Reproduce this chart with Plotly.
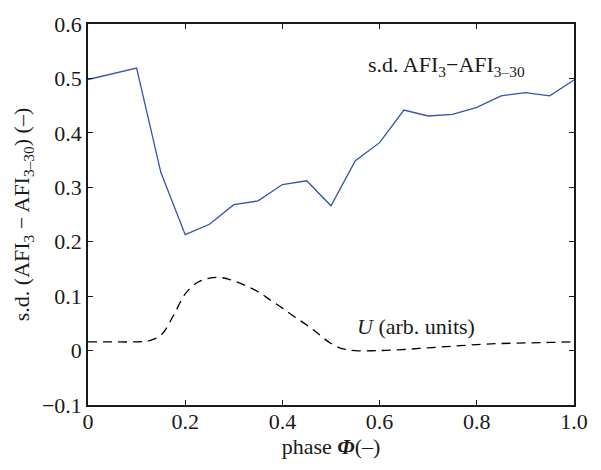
import plotly.graph_objects as go

# Phase grid and the standard deviation of AFI3 - AFI3-30
phase = [0.00, 0.05, 0.10, 0.15, 0.20, 0.25, 0.30, 0.35, 0.40, 0.45, 0.50,
         0.55, 0.60, 0.65, 0.70, 0.75, 0.80, 0.85, 0.90, 0.95, 1.00]
sd_afi = [0.498, 0.508, 0.519, 0.327, 0.213, 0.232, 0.268, 0.275, 0.305, 0.312, 0.266,
          0.349, 0.382, 0.442, 0.431, 0.434, 0.447, 0.468, 0.474, 0.468, 0.497]

# Forcing U (arbitrary units) over the phase
u_phase = [0.00, 0.05, 0.10, 0.125, 0.15, 0.175, 0.20, 0.225, 0.25, 0.275, 0.30,
           0.325, 0.35, 0.375, 0.40, 0.425, 0.45, 0.475, 0.50, 0.525, 0.55, 0.60,
           0.65, 0.70, 0.75, 0.80, 0.85, 0.90, 0.95, 1.00]
u_vals = [0.016, 0.016, 0.016, 0.018, 0.028, 0.063, 0.104, 0.125, 0.133, 0.134, 0.128,
          0.119, 0.108, 0.093, 0.078, 0.062, 0.047, 0.030, 0.013, 0.003, 0.000, 0.000,
          0.002, 0.005, 0.008, 0.011, 0.013, 0.014, 0.015, 0.016]

x_ticks = [0, 0.2, 0.4, 0.6, 0.8, 1.0]
x_labels = ["0", "0.2", "0.4", "0.6", "0.8", "1.0"]
y_ticks = [-0.1, 0, 0.1, 0.2, 0.3, 0.4, 0.5, 0.6]
y_labels = ["\u22120.1", "0", "0.1", "0.2", "0.3", "0.4", "0.5", "0.6"]

FONT = "'Liberation Serif', 'Times New Roman', serif"
INK = "#1a1a1a"

fig = go.Figure()
fig.add_trace(go.Scatter(x=phase, y=sd_afi, mode="lines",
                         line=dict(color="#3553b0", width=1.3), showlegend=False))
fig.add_trace(go.Scatter(x=u_phase, y=u_vals, mode="lines", line_shape="spline",
                         line=dict(color="black", width=1.3, dash="9px,6px"),
                         showlegend=False))

fig.add_annotation(x=0.571, y=0.522, xref="x", yref="y", xanchor="left", yanchor="middle",
                   text="s.d. AFI<sub>3</sub>\u2212AFI<sub>3\u201330</sub>",
                   showarrow=False, font=dict(family=FONT, size=22, color=INK))
fig.add_annotation(x=0.55, y=0.045, xref="x", yref="y", xanchor="left", yanchor="middle",
                   text="<i>U</i> (arb. units)",
                   showarrow=False, font=dict(family=FONT, size=22, color=INK))

axis_common = dict(showline=True, linecolor=INK, linewidth=1.5, mirror="ticks",
                   ticks="inside", ticklen=5, tickwidth=1.2, tickcolor=INK,
                   showgrid=False, zeroline=False,
                   tickfont=dict(family=FONT, size=22, color=INK))

fig.update_xaxes(range=[0, 1.0], tickvals=x_ticks, ticktext=x_labels,
                 ticklabelstandoff=-4,
                 title=dict(text="phase <b><i>\u03a6</i></b>(\u2013)",
                            font=dict(family=FONT, size=22, color=INK), standoff=4),
                 **axis_common)
fig.update_yaxes(range=[-0.1, 0.6], tickvals=y_ticks, ticktext=y_labels,
                 title=dict(text="s.d. (AFI<sub>3</sub> \u2212 AFI<sub>3\u201330</sub>) (\u2013)",
                            font=dict(family=FONT, size=22, color=INK), standoff=6),
                 **axis_common)

fig.update_layout(width=601, height=470, plot_bgcolor="white", paper_bgcolor="white",
                  margin=dict(l=88, r=27, t=17, b=65))

fig.write_html("out.html")
